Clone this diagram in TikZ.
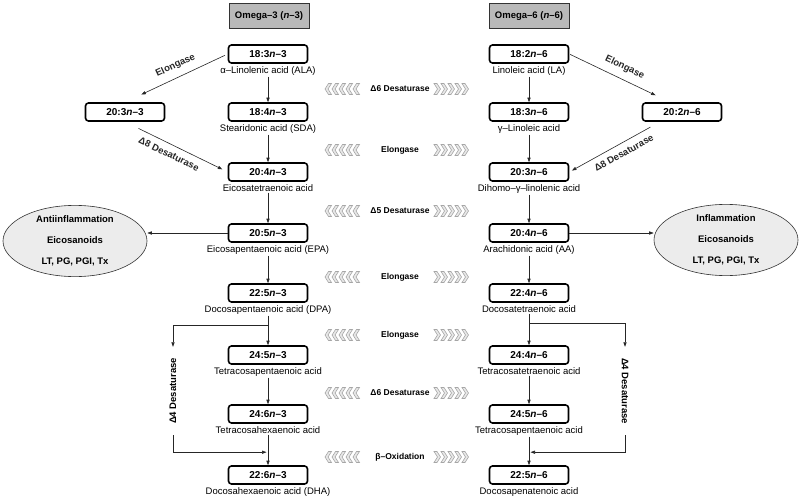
\documentclass[tikz,border=0pt]{standalone}
\usepackage{fontspec}
\setmainfont{Liberation Sans}
\usetikzlibrary{arrows.meta,positioning,calc,shapes.geometric}

\begin{document}
\begin{tikzpicture}[
      x=1pt, y=-1pt,
      acid/.style={draw=black, fill=white, rounded corners=3pt, line width=1.6pt, minimum width=79pt, minimum height=18pt, inner sep=0pt, font=\fontsize{10pt}{12pt}\selectfont\bfseries},
      hdr/.style={draw=black!80, fill=gray!55, line width=0.6pt, minimum width=80pt, minimum height=25pt, inner sep=0pt, font=\fontsize{9.5pt}{11pt}\selectfont\bfseries},
      lbl/.style={inner sep=1pt, font=\fontsize{9.5pt}{11pt}\selectfont},
      enz/.style={inner sep=1pt, font=\fontsize{8.5pt}{10pt}\selectfont\bfseries},
      senz/.style={inner sep=1pt, sloped, font=\fontsize{9.5pt}{11pt}\selectfont\bfseries},
      venz/.style={inner sep=1pt, inner xsep=11pt, font=\fontsize{9.5pt}{11pt}\selectfont\bfseries},
      eico/.style={draw=black!80, fill=gray!15, ellipse, line width=0.6pt, minimum width=144pt, minimum height=70pt, inner sep=0pt, align=center, font=\fontsize{9.5pt}{21pt}\selectfont\bfseries},
      chev/.style={draw=gray!70, fill=gray!18, line width=0.6pt, line join=miter},
      chevr/.pic={\foreach \k in {0,...,4} \filldraw[chev, xshift=\k*7pt] (0,-5.5) -- (3,-5.5) -- (6.5,0) -- (3,5.5) -- (0,5.5) -- (3.5,0) -- cycle;},
      chevl/.pic={\foreach \k in {0,...,4} \filldraw[chev, xshift=\k*7pt] (6.5,-5.5) -- (3.5,-5.5) -- (0,0) -- (3.5,5.5) -- (6.5,5.5) -- (3,0) -- cycle;},
      arr/.style={-{Triangle[length=4.5pt, width=3.2pt]}, line width=0.6pt, color=black!85},
      rarr/.style={{Triangle[length=4.5pt, width=3.2pt]}-, line width=0.6pt, color=black!85}
  ]
      \useasboundingbox (0,0) rectangle (800,500);

      % OMEGA-3 SIDE
      \node[hdr] (h3) at (269,16) {Omega–3 (\textit{n}–3)};
      \node[acid] (n3a) at (268,54) {18:3\textit{n}–3};
      \node[lbl, below=1.5pt of n3a] (n3aL) {α–Linolenic acid (ALA)};
      \node[acid] (n3x) at (125,112) {20:3\textit{n}–3};
      \node[acid] (n3b) at (268,112) {18:4\textit{n}–3};
      \node[lbl, below=1.5pt of n3b] (n3bL) {Stearidonic acid (SDA)};
      \node[acid] (n3c) at (268,172) {20:4\textit{n}–3};
      \node[lbl, below=1.5pt of n3c] (n3cL) {Eicosatetraenoic acid};
      \node[acid] (n3d) at (268,233) {20:5\textit{n}–3};
      \node[lbl, below=1.5pt of n3d] (n3dL) {Eicosapentaenoic acid (EPA)};
      \node[acid] (n3e) at (268,293) {22:5\textit{n}–3};
      \node[lbl, below=1.5pt of n3e] (n3eL) {Docosapentaenoic acid (DPA)};
      \node[acid] (n3f) at (268,355) {24:5\textit{n}–3};
      \node[lbl, below=1.5pt of n3f] (n3fL) {Tetracosapentaenoic acid};
      \node[acid] (n3g) at (268,414) {24:6\textit{n}–3};
      \node[lbl, below=1.5pt of n3g] (n3gL) {Tetracosahexaenoic acid};
      \node[acid] (n3h) at (268,475) {22:6\textit{n}–3};
      \node[lbl, below=1.5pt of n3h] (n3hL) {Docosahexaenoic acid (DHA)};
      \node[eico] (anti) at (75,241) {Antiinflammation\\Eicosanoids\\LT, PG, PGI, Tx};
      \node[venz, rotate=90] (d43) at (173,391) {Δ4 Desaturase};

      \draw[arr] (n3aL) -- (n3b);
      \draw[arr] (n3bL) -- (n3c);
      \draw[arr] (n3cL) -- (n3d);
      \draw[arr] (n3dL) -- (n3e);
      \draw[arr] (n3eL) -- (n3f);
      \draw[arr] (n3fL) -- (n3g);
      \draw[arr] (n3gL) -- (n3h);
      \draw[rarr, shorten >=3pt, shorten <=18pt] (n3x.north) -- node[senz, above=6pt, pos=0.54] (el3) {Elongase} (n3a.west);
      \draw[arr, shorten <=15pt, shorten >=6pt] (n3x.south) -- node[senz, below=5pt, pos=0.47] (d83) {Δ8 Desaturase} (n3c.west);
      \draw[arr] (n3d.west) -- (n3d.west -| anti.east);
      \draw[arr] ([yshift=-10pt]n3eL.south) -| (d43.east);
      \draw[arr] (d43.west) |- ([xshift=-1.5pt, yshift=13pt]n3h.north);

      % OMEGA-6 SIDE
      \node[hdr] (h6) at (529,16) {Omega–6 (\textit{n}–6)};
      \node[acid] (n6a) at (529,54) {18:2\textit{n}–6};
      \node[lbl, below=1.5pt of n6a] (n6aL) {Linoleic acid (LA)};
      \node[acid] (n6x) at (682,112) {20:2\textit{n}–6};
      \node[acid] (n6b) at (529,112) {18:3\textit{n}–6};
      \node[lbl, below=1.5pt of n6b] (n6bL) {γ–Linoleic acid};
      \node[acid] (n6c) at (529,172) {20:3\textit{n}–6};
      \node[lbl, below=1.5pt of n6c] (n6cL) {Dihomo–γ–linolenic acid};
      \node[acid] (n6d) at (529,233) {20:4\textit{n}–6};
      \node[lbl, below=1.5pt of n6d] (n6dL) {Arachidonic acid (AA)};
      \node[acid] (n6e) at (529,293) {22:4\textit{n}–6};
      \node[lbl, below=1.5pt of n6e] (n6eL) {Docosatetraenoic acid};
      \node[acid] (n6f) at (529,355) {24:4\textit{n}–6};
      \node[lbl, below=1.5pt of n6f] (n6fL) {Tetracosatetraenoic acid};
      \node[acid] (n6g) at (529,414) {24:5\textit{n}–6};
      \node[lbl, below=1.5pt of n6g] (n6gL) {Tetracosapentaenoic acid};
      \node[acid] (n6h) at (529,475) {22:5\textit{n}–6};
      \node[lbl, below=1.5pt of n6h] (n6hL) {Docosapenatenoic acid};
      \node[eico] (infl) at (726,240) {Inflammation\\Eicosanoids\\LT, PG, PGI, Tx};
      \node[venz, rotate=-90] (d46) at (625,391) {Δ4 Desaturase};

      \draw[arr] (n6aL) -- (n6b);
      \draw[arr] (n6bL) -- (n6c);
      \draw[arr] (n6cL) -- (n6d);
      \draw[arr] (n6dL) -- (n6e);
      \draw[arr] (n6eL) -- (n6f);
      \draw[arr] (n6fL) -- (n6g);
      \draw[arr] (n6gL) -- (n6h);
      \draw[arr, shorten <=1pt, shorten >=16pt] (n6a.east) -- node[senz, above=6pt, pos=0.5] (el6) {Elongase} ([xshift=-12pt]n6x.north);
      \draw[rarr, shorten <=3pt, shorten >=11pt] (n6c.east) -- node[senz, below=5pt, pos=0.55] (d86) {Δ8 Desaturase} ([xshift=-22pt]n6x.south);
      \draw[arr] (n6d.east) -- (n6d.east -| infl.west);
      \draw[arr] ([yshift=-10pt]n6eL.south) -| (d46.west);
      \draw[arr] (d46.east) |- ([xshift=1.5pt, yshift=13pt]n6h.north);

      % ENZYMES BETWEEN THE COLUMNS
      \node[enz] (e1) at (400,89) {Δ6 Desaturase};
      \node[enz] (e2) at (400,150) {Elongase};
      \node[enz] (e3) at (400,211) {Δ5 Desaturase};
      \node[enz] (e4) at (400,277) {Elongase};
      \node[enz] (e5) at (400,335) {Elongase};
      \node[enz] (e6) at (400,393) {Δ6 Desaturase};
      \node[enz] (e7) at (400,457) {β–Oxidation};
      \foreach \y in {89,150,211,277,335,393,457} {
        \pic at (325,\y) {chevl};
        \pic at (434,\y) {chevr};
      }
  \end{tikzpicture}
\end{document}
